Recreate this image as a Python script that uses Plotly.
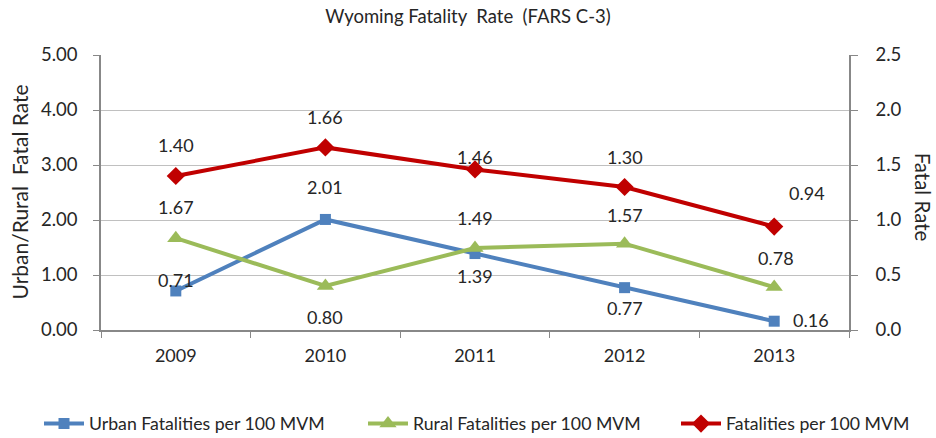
import plotly.graph_objects as go

years = ["2009", "2010", "2011", "2012", "2013"]
urban = [0.71, 2.01, 1.39, 0.77, 0.16]
rural = [1.67, 0.80, 1.49, 1.57, 0.78]
total = [1.40, 1.66, 1.46, 1.30, 0.94]

urban_name = "Urban Fatalities per 100 MVM"
rural_name = "Rural Fatalities per 100 MVM"
total_name = "Fatalities per 100 MVM"

# label offsets in pixels (dx, dy) – styling only
urban_off = [(0, 11), (0, 32), (0, -22), (0, -20), (37, 1)]
rural_off = [(0, 31), (0, -31), (0, 30), (0, 29), (2, 29)]
total_off = [(0, 31), (0, 30), (0, 12), (0, 30), (33, 34)]

FONT = "Lato, 'Open Sans', sans-serif"
TXT = "#262626"
BLUE = "#4F81BD"
GREEN = "#9BBB59"
RED = "#C00000"

W, H = 936, 438

fig = go.Figure()
fig.add_trace(go.Scatter(x=years, y=urban, name=urban_name, mode="lines+markers",
                         legend="legend",
                         line=dict(color=BLUE, width=4),
                         marker=dict(symbol="square", size=11, color=BLUE)))
fig.add_trace(go.Scatter(x=years, y=rural, name=rural_name, mode="lines+markers",
                         legend="legend2",
                         line=dict(color=GREEN, width=4),
                         marker=dict(symbol="triangle-up", size=15, color=GREEN)))
fig.add_trace(go.Scatter(x=years, y=total, name=total_name, mode="lines+markers",
                         yaxis="y2", legend="legend3",
                         line=dict(color=RED, width=4),
                         marker=dict(symbol="diamond", size=14, color=RED)))

anns = []
for vals, offs, yref in [(urban, urban_off, "y"), (rural, rural_off, "y"), (total, total_off, "y2")]:
    for i, (v, (dx, dy)) in enumerate(zip(vals, offs)):
        anns.append(dict(x=i, y=v, xref="x", yref=yref, text=f"{v:.2f}",
                         showarrow=False, xshift=dx, yshift=dy,
                         font=dict(family=FONT, size=18, color=TXT)))

anns.append(dict(x=0, y=0.5, xref="paper", yref="paper", text="Urban/Rural  Fatal Rate",
                 showarrow=False, xshift=-82, textangle=-90, xanchor="center", yanchor="middle",
                 font=dict(family=FONT, size=21, color=TXT)))
anns.append(dict(x=1, y=0.485, xref="paper", yref="paper", text="Fatal Rate",
                 showarrow=False, xshift=74, textangle=90, xanchor="center", yanchor="middle",
                 font=dict(family=FONT, size=20.5, color=TXT)))

leg_common = dict(orientation="h", yanchor="middle", y=-0.342, xanchor="left",
                  font=dict(family=FONT, size=17.7, color=TXT), itemwidth=40,
                  bgcolor="rgba(0,0,0,0)")

fig.update_layout(
    width=W, height=H,
    margin=dict(l=101, r=87, t=55, b=108, autoexpand=False),
    paper_bgcolor="white", plot_bgcolor="white",
    font=dict(family=FONT, color=TXT),
    title=dict(text="Wyoming Fatality  Rate  (FARS C-3)", x=0.5, xanchor="center",
               y=1 - 17 / H, yanchor="middle",
               font=dict(family=FONT, size=18.5, color=TXT)),
    xaxis=dict(type="category", showgrid=False, showline=True, linecolor="#888888",
               linewidth=1.5, ticks="outside", tickson="boundaries", ticklen=6,
               tickcolor="#888888", tickfont=dict(family=FONT, size=18, color=TXT),
               ticklabelstandoff=9, range=[-0.5, 4.5], automargin=False),
    yaxis=dict(range=[0, 5], dtick=1, tickformat=".2f", showgrid=True,
               gridcolor="#C0C0C0", gridwidth=1.2, showline=True, linecolor="#888888",
               linewidth=1.5, ticks="outside", ticklen=6, tickcolor="#888888",
               ticklabelstandoff=12, automargin=False,
               tickfont=dict(family=FONT, size=18.5, color=TXT), zeroline=False),
    yaxis2=dict(range=[0, 2.5], dtick=0.5, tickformat=".1f", overlaying="y", side="right",
                showgrid=False, showline=True, linecolor="#888888", linewidth=1.5,
                ticks="outside", ticklen=7, tickcolor="#888888", ticklabelstandoff=14,
                automargin=False,
                tickfont=dict(family=FONT, size=18.5, color=TXT), zeroline=False),
    legend=dict(x=(39 - 101) / 748, **leg_common),
    legend2=dict(x=(363 - 101) / 748, **leg_common),
    legend3=dict(x=(676 - 101) / 748, **leg_common),
    annotations=anns,
    showlegend=True,
)

fig.write_html("out.html", config={"displayModeBar": False},
               post_script="document.body.style.margin='0';document.body.style.overflow='hidden';")
